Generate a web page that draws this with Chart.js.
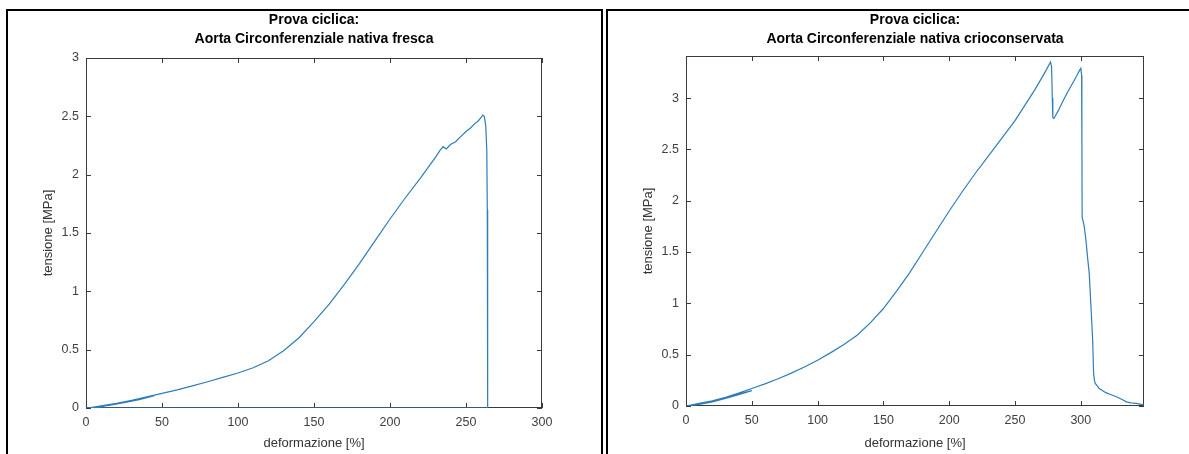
<!DOCTYPE html>
<html>
<head>
<meta charset="utf-8">
<script src="https://cdn.jsdelivr.net/npm/chart.js@4/dist/chart.umd.min.js"></script>
<style>
  html, body { margin: 0; padding: 0; background: #fff; overflow: hidden; }
  body { width: 1189px; height: 454px; position: relative; }
  .panel { position: absolute; border: 2px solid #000; box-sizing: border-box; }
  #panelA { left: 6px; top: 9px; width: 597px; height: 470px; }
  #panelB { left: 606px; top: 9px; width: 620px; height: 470px; }
  canvas { position: absolute; }
  #cA { left: 8px; top: 11px; }
  #cB { left: 608px; top: 11px; }
</style>
</head>
<body>
<div class="panel" id="panelA"></div>
<div class="panel" id="panelB"></div>
<canvas id="cA" width="591" height="443"></canvas>
<canvas id="cB" width="581" height="443"></canvas>
<script>
// ---- fresh sample: strain [%] and stress [MPa] ----
const freshStrain = [0, 10, 20, 30, 40, 45, 35, 25, 15, 5, 0,
  5, 10, 20, 30, 40, 50, 60, 70, 80, 90, 100, 110, 120, 130, 140, 150,
  160, 170, 180, 190, 200, 210, 220, 225, 230, 233, 235, 237, 240, 243, 246, 250,
  253, 256, 258, 260, 261, 262, 263, 263.7, 264, 264.2, 264.3, 130, 0];
const freshStress = [0, 0.012, 0.035, 0.062, 0.09, 0.105, 0.072, 0.045, 0.022, 0.005, 0,
  0.008, 0.018, 0.04, 0.065, 0.095, 0.125, 0.155, 0.19, 0.225, 0.262, 0.3, 0.345, 0.405, 0.49, 0.6, 0.74,
  0.89, 1.06, 1.24, 1.43, 1.62, 1.8, 1.97, 2.06, 2.15, 2.21, 2.24, 2.22, 2.26, 2.28, 2.32, 2.37,
  2.4, 2.44, 2.46, 2.49, 2.51, 2.5, 2.42, 2.2, 1.7, 0.8, 0, 0, 0];

// ---- cryopreserved sample ----
const cryoStrain = [0, 10, 20, 30, 40, 50, 40, 30, 20, 10, 0,
  10, 20, 30, 40, 50, 60, 70, 80, 90, 100, 110, 120, 130, 140, 150, 160, 170, 180, 190, 200,
  210, 220, 230, 240, 250, 255, 260, 265, 270, 274, 276, 277, 277.8, 278.3, 278.7, 279.5, 280.8,
  283, 286, 290, 294, 297, 299, 300, 300.6, 300.8, 301, 302.6, 304, 305.1, 306.4, 307.7, 309, 309.7,
  310.3, 311, 314, 319, 323, 327, 331, 334.6, 338, 342, 348];
const cryoStress = [0, 0.02, 0.045, 0.08, 0.115, 0.15, 0.11, 0.075, 0.04, 0.015, 0,
  0.025, 0.05, 0.085, 0.125, 0.17, 0.215, 0.265, 0.32, 0.38, 0.445, 0.52, 0.6, 0.69, 0.81, 0.95, 1.12, 1.3, 1.5, 1.7, 1.9,
  2.09, 2.27, 2.44, 2.61, 2.78, 2.88, 2.98, 3.08, 3.19, 3.28, 3.33, 3.35, 3.3, 3.0, 2.81, 2.8, 2.83,
  2.88, 2.96, 3.06, 3.15, 3.22, 3.27, 3.29, 3.22, 2.6, 1.84, 1.75, 1.6, 1.45, 1.29, 0.97, 0.64, 0.32,
  0.25, 0.22, 0.17, 0.13, 0.11, 0.09, 0.065, 0.04, 0.03, 0.026, 0.01];

// ---- axis ticks ----
const strainTicks = [0, 50, 100, 150, 200, 250, 300];
const stressTicksFresh = [0, 0.5, 1, 1.5, 2, 2.5, 3];
const stressTicksCryo = [0, 0.5, 1, 1.5, 2, 2.5, 3];

const titlesFresh = ['Prova ciclica:', 'Aorta Circonferenziale nativa fresca'];
const titlesCryo = ['Prova ciclica:', 'Aorta Circonferenziale nativa crioconservata'];
const xLabel = 'deformazione [%]';
const yLabel = 'tensione [MPa]';

const FONT = "'Liberation Sans', Arial, Helvetica, sans-serif";
const LINE = '#2f7db8';
const AXIS = '#3a3a3a';
const TICKTXT = '#404040';

// Box around the plot area with inward tick marks on all four sides
const boxTicks = {
  id: 'boxTicks',
  beforeDatasetsDraw(chart) {
    const { ctx, chartArea: a, scales: { x, y } } = chart;
    const len = 5;
    ctx.save();
    ctx.strokeStyle = AXIS;
    ctx.lineWidth = 1;
    ctx.strokeRect(Math.round(a.left) + 0.5, Math.round(a.top) + 0.5,
      Math.round(a.right - a.left) - 1, Math.round(a.bottom - a.top) - 1);
    ctx.beginPath();
    x.ticks.forEach(t => {
      const px = Math.round(x.getPixelForValue(t.value)) + 0.5;
      ctx.moveTo(px, a.bottom); ctx.lineTo(px, a.bottom - len);
      ctx.moveTo(px, a.top); ctx.lineTo(px, a.top + len);
    });
    y.ticks.forEach(t => {
      const py = Math.round(y.getPixelForValue(t.value)) + 0.5;
      ctx.moveTo(a.left, py); ctx.lineTo(a.left + len, py);
      ctx.moveTo(a.right, py); ctx.lineTo(a.right - len, py);
    });
    ctx.stroke();
    ctx.restore();
  }
};

function makeChart(id, strain, stress, cfg) {
  const pts = strain.map((s, i) => ({ x: s, y: stress[i] }));
  return new Chart(document.getElementById(id), {
    type: 'line',
    data: { datasets: [{ data: pts, borderColor: LINE, borderWidth: 1.2, pointRadius: 0, tension: 0, fill: false }] },
    options: {
      responsive: false,
      animation: false,
      events: [],
      layout: { padding: { left: 0, top: 0, bottom: 0, right: cfg.padRight } },
      plugins: {
        legend: { display: false },
        tooltip: { enabled: false },
        title: {
          display: true, text: cfg.titles, color: '#000', fullSize: false,
          font: { family: FONT, size: 14, weight: 'bold', lineHeight: 19 / 14 },
          padding: { top: 0, bottom: cfg.titleGap }
        }
      },
      scales: {
        x: {
          type: 'linear', min: 0, max: cfg.xMax,
          afterBuildTicks: s => { s.ticks = strainTicks.map(v => ({ value: v })); },
          afterFit: s => { s.height = cfg.xHeight; },
          grid: { display: false, drawTicks: false },
          border: { display: false },
          ticks: { color: TICKTXT, padding: 7, font: { family: FONT, size: 12.5 }, callback: v => String(v), maxRotation: 0 },
          title: { display: true, text: xLabel, color: '#333', font: { family: FONT, size: 13 }, padding: { top: 0, bottom: 3 } }
        },
        y: {
          type: 'linear', min: 0, max: cfg.yMax,
          afterBuildTicks: s => { s.ticks = cfg.yTicks.map(v => ({ value: v })); },
          afterFit: s => { s.width = 78; },
          grid: { display: false, drawTicks: false },
          border: { display: false },
          ticks: { color: TICKTXT, padding: 7, font: { family: FONT, size: 12.5 }, callback: v => String(v) },
          title: { display: true, text: yLabel, color: '#333', font: { family: FONT, size: 13 }, padding: { top: 33, bottom: 0 } }
        }
      }
    },
    plugins: [boxTicks]
  });
}

makeChart('cA', freshStrain, freshStress, {
  titles: titlesFresh, padRight: 57, titleGap: 9, xHeight: 46, xMax: 300, yMax: 3, yTicks: stressTicksFresh
});
makeChart('cB', cryoStrain, cryoStress, {
  titles: titlesCryo, padRight: 45, titleGap: 7, xHeight: 48, xMax: 348, yMax: 3.41, yTicks: stressTicksCryo
});
</script>
</body>
</html>
